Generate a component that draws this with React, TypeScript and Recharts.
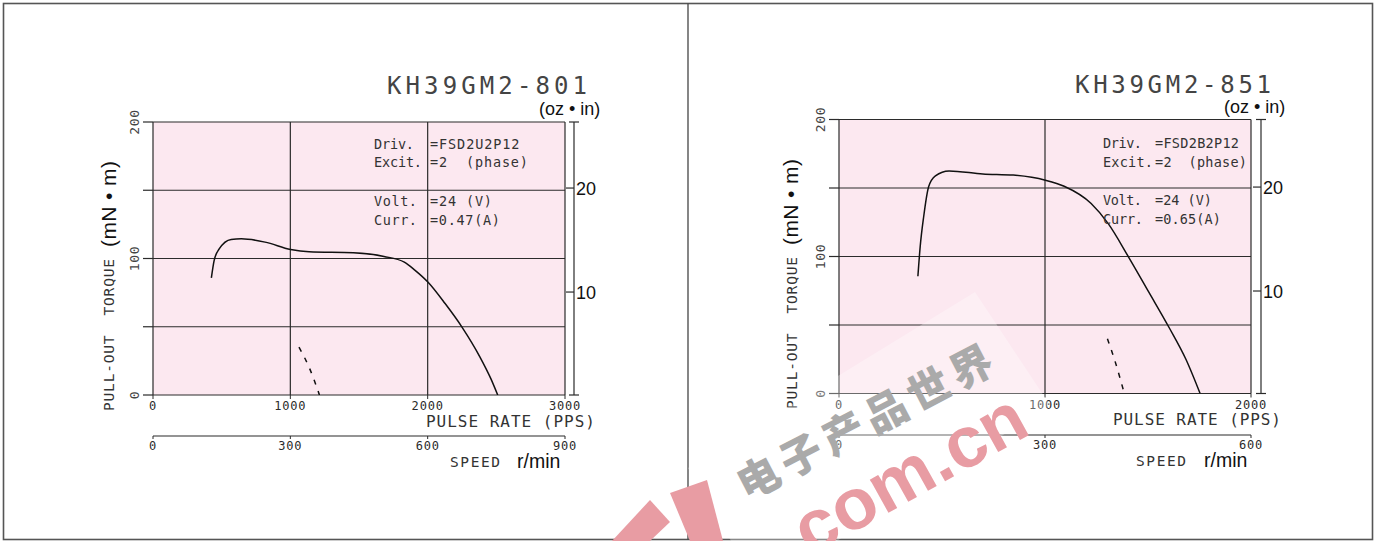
import React from 'react';
import { LineChart, Line, XAxis, YAxis, ReferenceLine, ReferenceArea } from 'recharts';

// ---------------- data ----------------
const torqueTicks = [0, 50, 100, 150, 200];
const torqueGrid = [50, 100, 150];
const ozTicks = [10, 20];

// KH39GM2-801
const title801 = 'KH39GM2-801';
const pulseTicks801 = [0, 1000, 2000, 3000];
const speedTicks801 = [0, 300, 600, 900];
const pullout801Pps = [425, 445, 482, 569, 643, 816, 1002, 1137, 1459, 1682, 1830, 1904, 2003, 2127, 2251, 2380, 2460, 2510];
const pullout801Torque = [85.8, 98.5, 107, 114, 114.4, 112, 106.6, 104.9, 104.2, 101.5, 97.3, 91.7, 82.6, 67, 49.6, 28, 12, 0];
const pullin801Pps = [1063, 1138, 1212];
const pullin801Torque = [35, 20, 0];
const notes801Labels = ['Driv.', 'Excit.', 'Volt.', 'Curr.'];
const notes801Values = ['=FSD2U2P12', '=2  (phase)', '=24 (V)', '=0.47(A)'];

// KH39GM2-851
const title851 = 'KH39GM2-851';
const pulseTicks851 = [0, 1000, 2000];
const speedTicks851 = [0, 300, 600];
const pullout851Pps = [383, 394, 411, 435, 468, 534, 698, 846, 1002, 1093, 1224, 1307, 1405, 1504, 1603, 1684, 1753];
const pullout851Torque = [85.6, 107, 129, 150.9, 158.9, 162.5, 160.3, 159.4, 155.7, 151.3, 138.7, 124, 99.8, 74, 48, 25, 0];
const pullin851Pps = [1303, 1339, 1385];
const pullin851Torque = [40, 24, 0];
const notes851Labels = ['Driv.', 'Excit.', 'Volt.', 'Curr.'];
const notes851Values = ['=FSD2B2P12', '=2  (phase)', '=24 (V)', '=0.65(A)'];

// ---------------- layout ----------------
const H = 541;
const PINK = '#fce8f0';
const INK = '#2b2b2b';
const MONO = "'DejaVu Sans Mono', monospace";
const SANS = "'Liberation Sans', Arial, sans-serif";

const layout801 = {
  left: 0, width: 687, plotLeft: 153, plotRight: 565, axisX: 574, plotTop: 122, plotBottom: 395, speedY: 436,
  ozMin: 0.1, ozMax: 26.35,
  title: { x: 387, y: 93.5, len: 200 },
  ozUnit: { x: 539, y: 114.5 },
  yLabel: { thinX: 114.3, thinY: 411, thinLen: 152, boldX: 115.5, boldY: 247, boldLen: 86 },
  pulseLabel: { x: 426, y: 427, len: 169 },
  speedLabel: { x: 450, y: 467, len: 50 },
  rpm: { x: 517, y: 468 },
  notes: { labelX: 374, valueX: 430, ys: [148.5, 167, 206, 225], labelLens: [40, 48, 43, 43], valueLens: [89.5, 98, 62, 70] },
};

const layout851 = {
  left: 688, width: 694, plotLeft: 839, plotRight: 1251, axisX: 1261, plotTop: 119.5, plotBottom: 393.5, speedY: 435,
  ozMin: 0.14, ozMax: 26.5,
  title: { x: 1075, y: 93, len: 196 },
  ozUnit: { x: 1224, y: 113 },
  yLabel: { thinX: 797.3, thinY: 409, thinLen: 152, boldX: 797.5, boldY: 245, boldLen: 86 },
  pulseLabel: { x: 1113, y: 425, len: 168 },
  speedLabel: { x: 1136, y: 466, len: 50 },
  rpm: { x: 1204, y: 467 },
  notes: { labelX: 1103, valueX: 1155, ys: [148, 166.5, 205, 223.5], labelLens: [39, 50, 39, 40], valueLens: [84, 92, 57, 66] },
};

// ---------------- ticks ----------------
const PulseTick = (props: any) => {
  const { x, y, payload } = props;
  return (
    <text x={x} y={y + 9} textAnchor="middle" fontFamily={MONO} fontSize={12} letterSpacing={0.8} fill={INK}>
      {payload.value}
    </text>
  );
};

const SpeedTick = (props: any) => {
  const { x, y, payload } = props;
  return (
    <text x={x} y={y + 9} textAnchor="middle" fontFamily={MONO} fontSize={12} letterSpacing={0.8} fill={INK}>
      {payload.value}
    </text>
  );
};

const TorqueTick = (props: any) => {
  const { x, y, payload } = props;
  if (payload.value % 100 !== 0) return <g />;
  return (
    <text x={x} y={y} transform={`rotate(-90 ${x} ${y})`} textAnchor="middle" dominantBaseline="central"
      fontFamily={MONO} fontSize={13} letterSpacing={0.6} fill="#444">
      {payload.value}
    </text>
  );
};

const makeOzTick = (lo: number, hi: number) => (props: any) => {
  const { x, y, payload } = props;
  if (payload.value === lo || payload.value === hi) {
    return <line x1={x - 5} y1={y} x2={x + 5} y2={y} stroke={INK} strokeWidth={1.2} />;
  }
  return (
    <g>
      <line x1={x - 8} y1={y} x2={x} y2={y} stroke={INK} strokeWidth={1.2} />
      <text x={x + 2} y={y + 6.5} fontFamily={SANS} fontSize={18} fill="#111">{payload.value}</text>
    </g>
  );
};

// ---------------- panel chart ----------------
function Panel({ L, pulseTicks, speedTicks, outPps, outTorque, inPps, inTorque }: any) {
  const xMax = pulseTicks[pulseTicks.length - 1];
  const sMax = speedTicks[speedTicks.length - 1];
  const ext = (L.axisX - L.plotLeft) / (L.plotRight - L.plotLeft);
  const perUnit = (L.plotBottom - L.plotTop) / 200;
  const speedLineVal = -(L.speedY - L.plotBottom) / perUnit;
  const outData = outPps.map((p: number, i: number) => ({ pps: p, torque: outTorque[i] }));
  const inData = inPps.map((p: number, i: number) => ({ pps: p, torque: inTorque[i] }));
  const speedData = speedTicks.map((s: number) => ({ rpm: s, none: null }));
  const gridX = pulseTicks.slice(1, -1);
  const speedH = 40;
  const margin = {
    top: L.plotTop,
    bottom: H - L.speedY - speedH,
    left: L.plotLeft - L.left - 50,
    right: L.width - (L.axisX - L.left) - 40,
  };
  const gridStroke = { stroke: INK, strokeWidth: 1.2 };
  return (
    <div style={{ position: 'absolute', left: L.left, top: 0 }}>
      <LineChart width={L.width} height={H} margin={margin}>
        <XAxis xAxisId="pps" type="number" dataKey="pps" domain={[0, xMax * ext]} ticks={pulseTicks} interval={0}
          allowDataOverflow axisLine={false} tickSize={4} tickLine={{ stroke: INK }} height={L.speedY - L.plotBottom}
          tick={PulseTick} />
        <XAxis xAxisId="speed" type="number" dataKey="rpm" domain={[0, sMax * ext]} ticks={speedTicks} interval={0}
          allowDataOverflow axisLine={false} tickSize={3} tickLine={{ stroke: INK }} height={speedH} tick={SpeedTick} />
        <YAxis yAxisId="mNm" type="number" domain={[0, 200]} ticks={torqueTicks} interval={0} width={50}
          allowDataOverflow tickSize={10} tickMargin={9} axisLine={{ stroke: INK, strokeWidth: 1.2 }}
          tickLine={{ stroke: INK, strokeWidth: 1.2 }} tick={TorqueTick} />
        <YAxis yAxisId="oz" orientation="right" type="number" domain={[L.ozMin, L.ozMax]}
          ticks={[L.ozMin, ...ozTicks, L.ozMax]} interval={0} width={40} allowDataOverflow tickSize={0} tickMargin={0}
          tickLine={false} axisLine={{ stroke: INK, strokeWidth: 1.2 }} tick={makeOzTick(L.ozMin, L.ozMax)} />

        <ReferenceArea xAxisId="pps" yAxisId="mNm" x1={0} x2={xMax} y1={0} y2={200} fill={PINK} fillOpacity={1} stroke="none" />
        {torqueGrid.map((v) => (
          <ReferenceLine key={'h' + v} xAxisId="pps" yAxisId="mNm" segment={[{ x: 0, y: v }, { x: xMax, y: v }]} {...gridStroke} />
        ))}
        <ReferenceLine xAxisId="pps" yAxisId="mNm" segment={[{ x: 0, y: 200 }, { x: xMax, y: 200 }]} {...gridStroke} />
        <ReferenceLine xAxisId="pps" yAxisId="mNm" segment={[{ x: 0, y: 0 }, { x: xMax, y: 0 }]} {...gridStroke} />
        {gridX.map((v: number) => (
          <ReferenceLine key={'v' + v} xAxisId="pps" yAxisId="mNm" segment={[{ x: v, y: 0 }, { x: v, y: 200 }]} {...gridStroke} />
        ))}
        <ReferenceLine xAxisId="pps" yAxisId="mNm" segment={[{ x: xMax, y: 0 }, { x: xMax, y: 200 }]} {...gridStroke} />
        <ReferenceLine xAxisId="pps" yAxisId="mNm" ifOverflow="visible"
          segment={[{ x: 0, y: speedLineVal }, { x: xMax, y: speedLineVal }]} stroke={INK} strokeWidth={1.2} />

        <Line data={speedData} xAxisId="speed" yAxisId="mNm" dataKey="none" dot={false} stroke="none"
          isAnimationActive={false} />
        <Line data={outData} xAxisId="pps" yAxisId="mNm" dataKey="torque" type="monotone" dot={false}
          stroke="#111" strokeWidth={1.5} isAnimationActive={false} />
        <Line data={inData} xAxisId="pps" yAxisId="mNm" dataKey="torque" type="monotone" dot={false}
          stroke="#111" strokeWidth={1.5} strokeDasharray="5 7" isAnimationActive={false} />
      </LineChart>
    </div>
  );
}

// ---------------- static texts ----------------
function PanelText({ L, title, labels, values }: any) {
  const yl = L.yLabel;
  return (
    <g>
      <text x={L.title.x} y={L.title.y} fontFamily={MONO} fontSize={24} fill="#444" textLength={L.title.len}
        lengthAdjust="spacing">{title}</text>
      <text x={L.ozUnit.x} y={L.ozUnit.y} fontFamily={SANS} fontSize={18} fill="#111">(oz • in)</text>
      <text x={yl.thinX} y={yl.thinY} transform={`rotate(-90 ${yl.thinX} ${yl.thinY})`} fontFamily={MONO}
        fontSize={14.5} fill="#333" textLength={yl.thinLen} lengthAdjust="spacing" style={{ whiteSpace: 'pre' }}>
        PULL-OUT  TORQUE
      </text>
      <text x={yl.boldX} y={yl.boldY} transform={`rotate(-90 ${yl.boldX} ${yl.boldY})`} fontFamily={SANS}
        fontSize={21} fill="#111" textLength={yl.boldLen} lengthAdjust="spacing">(mN • m)</text>
      <text x={L.pulseLabel.x} y={L.pulseLabel.y} fontFamily={MONO} fontSize={16} fill="#333"
        textLength={L.pulseLabel.len} lengthAdjust="spacing">PULSE RATE (PPS)</text>
      <text x={L.speedLabel.x} y={L.speedLabel.y} fontFamily={MONO} fontSize={14.5} fill="#333"
        textLength={L.speedLabel.len} lengthAdjust="spacing">SPEED</text>
      <text x={L.rpm.x} y={L.rpm.y} fontFamily={SANS} fontSize={19.5} fill="#111">r/min</text>
      {labels.map((t: string, i: number) => (
        <text key={'l' + i} x={L.notes.labelX} y={L.notes.ys[i]} fontFamily={MONO} fontSize={13.5} fill="#333"
          textLength={L.notes.labelLens[i]} lengthAdjust="spacing">{t}</text>
      ))}
      {values.map((t: string, i: number) => (
        <text key={'v' + i} x={L.notes.valueX} y={L.notes.ys[i]} fontFamily={MONO} fontSize={13.5} fill="#333"
          textLength={L.notes.valueLens[i]} lengthAdjust="spacing" style={{ whiteSpace: 'pre' }}>{t}</text>
      ))}
    </g>
  );
}

function Overlay() {
  return (
    <svg width={1382} height={H} style={{ position: 'absolute', left: 0, top: 0, pointerEvents: 'none' }}>
      <rect x={3.5} y={3.5} width={1369} height={536} fill="none" stroke="#555" strokeWidth={1.6} />
      <line x1={688} y1={3.5} x2={688} y2={539.5} stroke="#444" strokeWidth={1.3} />
      <PanelText L={layout801} title={title801} labels={notes801Labels} values={notes801Values} />
      <PanelText L={layout851} title={title851} labels={notes851Labels} values={notes851Values} />
      {/* watermark */}
      <polygon points="688,468 975,292 1050,405 760,590" fill="#fff" fillOpacity={0.3} />
      <polygon points="670,493 707,480 723,541 690,541" fill="#e89ca3" />
      <polygon points="612,541 650,500 670,522 650,541" fill="#e89ca3" />
      <text x={866} y={418} transform="rotate(-27.5 866 418)" textAnchor="middle" dominantBaseline="central"
        fontFamily="'Noto Sans CJK SC'" fontWeight={900} fontSize={42} letterSpacing={6} fill="#aaaaaa">电子产品世界</text>
      <text x={912} y={478} dy={19} transform="rotate(-29 912 478)" textAnchor="middle" fontFamily={SANS}
        fontWeight={700} fontSize={72} fill="#e89ca3" textLength={255} lengthAdjust="spacingAndGlyphs">com.cn</text>
    </svg>
  );
}

export default function App() {
  return (
    <div style={{ position: 'absolute', left: 0, top: 0, width: 1382, height: H, background: '#fff', overflow: 'hidden' }}>
      <Panel L={layout801} pulseTicks={pulseTicks801} speedTicks={speedTicks801}
        outPps={pullout801Pps} outTorque={pullout801Torque} inPps={pullin801Pps} inTorque={pullin801Torque} />
      <Panel L={layout851} pulseTicks={pulseTicks851} speedTicks={speedTicks851}
        outPps={pullout851Pps} outTorque={pullout851Torque} inPps={pullin851Pps} inTorque={pullin851Torque} />
      <Overlay />
    </div>
  );
}
